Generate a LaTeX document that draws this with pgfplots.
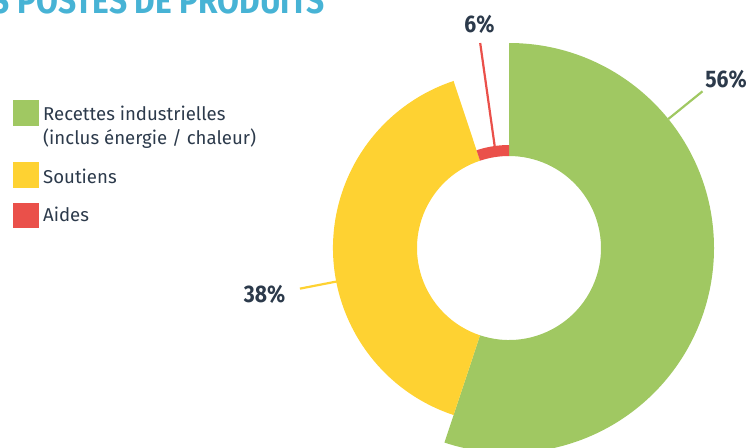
\documentclass[border=0pt]{standalone}
\usepackage{pgfplots}
\pgfplotsset{compat=1.18}
\usepackage{pgfplotstable}
\usepackage{fontspec}
\setmainfont{Fira Sans}
\newfontfamily\condfont{Fira Sans}[FakeStretch=0.88]
\usetikzlibrary{calc}

\definecolor{vgreen}{HTML}{A0C862}
\definecolor{vyellow}{HTML}{FED232}
\definecolor{vred}{HTML}{EA504A}
\definecolor{ink}{HTML}{2C3A4B}
\definecolor{titleblue}{HTML}{47B3D5}

% value = share drawn, rout = outer radius (px), pct = printed label
% lang/lin/lout = leader line angle and radii, lx/ly = label position
\pgfplotstableread{
value rout color   pct lang lin lout lx    ly
55.1  205  vgreen  56  39   205 249  726   87
39.8  176  vyellow 38  191  175 213  264.5 302
5.1   103  vred    6   98   103 207  479.5 32
}\donut

\begin{document}
\begin{tikzpicture}
\useasboundingbox (0,0) rectangle (751bp,448bp);
\clip (0,0) rectangle (751bp,448bp);
\begin{axis}[
    at={(0,0)}, anchor=south west,
    width=751bp, height=448bp, scale only axis,
    xmin=0, xmax=751, ymin=0, ymax=448, y dir=reverse,
    hide axis, clip=false,
]
\pgfplotstablegetrowsof{\donut}
\pgfmathtruncatemacro\nrows{\pgfplotsretval-1}
\def\cum{0}
\pgfplotsforeachungrouped \i in {0,...,\nrows}{
    \pgfplotstablegetelem{\i}{value}\of\donut \let\val\pgfplotsretval
    \pgfplotstablegetelem{\i}{rout}\of\donut \let\rout\pgfplotsretval
    \pgfplotstablegetelem{\i}{color}\of\donut \let\col\pgfplotsretval
    \pgfmathsetmacro\aone{90-3.6*\cum}
    \pgfmathsetmacro\atwo{90-3.6*(\cum+\val)}
    \pgfmathsetmacro\cum{\cum+\val}
    \edef\temp{\noexpand\fill[\col]
        ($(axis cs:509,248)+(\aone:\rout bp)$)
        arc[start angle=\aone, end angle=\atwo, radius=\rout bp]
        -- ($(axis cs:509,248)+(\atwo:92bp)$)
        arc[start angle=\atwo, end angle=\aone, radius=92bp] -- cycle;}
    \temp
    \pgfplotstablegetelem{\i}{lang}\of\donut \let\lang\pgfplotsretval
    \pgfplotstablegetelem{\i}{lin}\of\donut \let\lin\pgfplotsretval
    \pgfplotstablegetelem{\i}{lout}\of\donut \let\lout\pgfplotsretval
    \pgfplotstablegetelem{\i}{pct}\of\donut \let\pct\pgfplotsretval
    \pgfplotstablegetelem{\i}{lx}\of\donut \let\lx\pgfplotsretval
    \pgfplotstablegetelem{\i}{ly}\of\donut \let\ly\pgfplotsretval
    \edef\temp{\noexpand\draw[\col, line width=2.2bp]
        ($(axis cs:509,248)+(\lang:\lin bp)$) -- ($(axis cs:509,248)+(\lang:\lout bp)$);
        \noexpand\node[anchor=base, inner sep=0pt, text=ink,
            font=\noexpand\condfont\noexpand\bfseries\noexpand\fontsize{24bp}{28bp}\noexpand\selectfont]
            at (axis cs:\lx,\ly) {\pct\noexpand\%};}
    \temp
}

% title (cut by the frame)
\node[anchor=base east, inner sep=0pt, text=titleblue,
    font=\condfont\bfseries\fontsize{36bp}{40bp}\selectfont]
    at (axis cs:325,13.5) {LES POSTES DE PRODUITS};

% legend
\fill[vgreen] (axis cs:13,100) rectangle (axis cs:39,126);
\fill[vyellow] (axis cs:13,162) rectangle (axis cs:39,188);
\fill[vred] (axis cs:13,203) rectangle (axis cs:39,228);
\begin{scope}[every node/.style={anchor=base west, inner sep=0pt, text=ink,
    font=\fontsize{18.6bp}{23.5bp}\selectfont}]
\node at (axis cs:43,120.7) {Recettes industrielles};
\node at (axis cs:43,144.3) {(inclus énergie / chaleur)};
\node at (axis cs:43,183.3) {Soutiens};
\node at (axis cs:43,221) {Aides};
\end{scope}
\end{axis}
\end{tikzpicture}
\end{document}
